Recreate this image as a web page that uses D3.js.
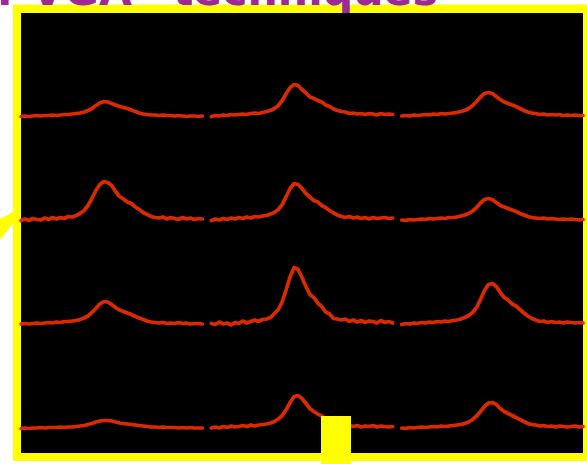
<!DOCTYPE html>
<html>
<head>
<meta charset="utf-8">
<script src="https://cdn.jsdelivr.net/npm/d3@7"></script>
<style>
  html, body { margin: 0; padding: 0; background: #fff; }
  svg { display: block; }
</style>
</head>
<body>
<script>
// rows / columns of the panel grid
const rows = ['r1', 'r2', 'r3', 'r4'];
const cols = ['c1', 'c2', 'c3'];

// trace heights above each row baseline (px-ish units), 47 samples per trace
const r1c1 = [0,0.5,0,0.5,1,0.5,1,1,1.5,1,1.5,2,2,2.5,3,3.5,4.5,6,8,11,13.5,15,14.5,13,11.5,10,9,8,6.5,5,3.5,2.5,2,1.5,1.5,1,1.5,1,1,0.5,1,0.5,0,0.5,0.5,0,0.5];
const r1c2 = [0,1,0.5,1.5,1,2,1.5,2,2.5,2,3,3.5,3,4,5,6,8,11,16,23,29,32,31,27,23.5,19.5,18,16,14.5,11.5,10,7.5,6,5,4.5,3,3.5,2.5,3,2,3,2.5,1.5,3,2,2.5,2];
const r1c3 = [0.5,1,0.5,1.5,1,1.5,2,1.5,2.5,2,3,2.5,3,3.5,4,5,6,8,11,15,19.5,23,24,23,20,17,14.5,13,11.5,10,8,6,4.5,3.5,3,2,2.5,1.5,2,1.5,2,1,1.5,1,1.5,1,1];

const r2c1 = [0,1.5,0,2,1,0.5,2.5,1,3,1.5,3,2,4,3.5,5,7,10,15,22,30,36,39,38,35,29,24,21.5,18.5,17,13.5,11,8,6,4,3,2.5,3.5,1.5,3,2,1,3,1.5,2.5,1,2,1.5];
const r2c2 = [0,1.5,0.5,2,1,2.5,1.5,3,2,3.5,2.5,4,3.5,4.5,5,6.5,8,11,16,24,32,37,36,32,27,23.5,20,18.5,15,13,10,7.5,5.5,4,3,4,2.5,3.5,2,3,1.5,3,2,2.5,3,2,2.5];
const r2c3 = [0.5,0,1,0.5,1,1.5,1,2,1.5,2,2.5,2,3,3,3.5,4.5,5.5,7,9.5,13,17.5,21,22,21,18,15,13.5,12,10.5,9,7,5.5,4,3,2.5,2,2.5,1.5,2,1.5,1,1.5,1,1.5,1,0.5,1];

const r3c1 = [0.5,1,0.5,1,1.5,1,1.5,2,1.5,2.5,2,3,3,3.5,4,5,6.5,8.5,12,16,20.5,23,22.5,20,17,14.5,13,11.5,10,8,6.5,5,3.5,2.5,2,1.5,2,1,1.5,1,2,1,1.5,0.5,1,1,0.5];
const r3c2 = [1,0,2.5,0.5,1.5,-0.5,2,1,3.5,1.5,3,4.5,3,5,5.5,7,11,15,23,35,48,57,55,47,38,30,27,21.5,18,12.5,10.5,6,5.5,4.5,5.5,3,4.5,2.5,4,2,3.5,3,1.5,4,2,3,1.5];
const r3c3 = [0,1,0.5,1.5,1,2,1.5,2.5,2,3,2.5,3.5,3,4,4.5,5.5,7,9,12,17,25,34,40,41,38,32,27,24.5,20.5,18.5,15,11.5,8.5,6,4.5,3,3.5,2,3,2,2.5,1.5,2.5,2,1.5,2,1.5];

const r4c1 = [0,0.5,0,0.5,0.5,1,0.5,1,1,1,1.5,1,1.5,1.5,2,2.5,3,4,5,6.5,7.5,8,8,7.5,6.5,5.5,5,4.5,4,3.5,3,2.5,2,1.5,1.5,1,1.5,1,1,1,0.5,1,0.5,1,0.5,0.5,0.5];
const r4c2 = [0.5,1.5,0.5,2,1,2.5,1.5,2,3,2,3.5,2.5,3.5,4,4.5,5.5,7,9.5,13,19,26,32,33,30,25,20,17,14.5,12.5,10,8,6,4.5,3.5,2.5,3,2,3,1.5,2.5,2,3,1.5,2.5,2,1.5,2];
const r4c3 = [0.5,0,1,0.5,1,1.5,1,1.5,2,1.5,2.5,2,2.5,3,3.5,4,5,6.5,9,12.5,17,22,25.5,26,24,20,17,15,13,11,9,7,5,4,3.5,2.5,3,2,2.5,1.5,2.5,2,1.5,2,2.5,1.5,2];

const grid = [
  [r1c1, r1c2, r1c3],
  [r2c1, r2c2, r2c3],
  [r3c1, r3c2, r3c3],
  [r4c1, r4c2, r4c3]
];
const traces = [];
rows.forEach((r, i) => cols.forEach((c, j) => traces.push({ row: r, col: c, values: grid[i][j] })));

const titleParts = ['in', 'VGA', 'techniques'];

const width = 587, height = 464;

const svg = d3.select('body').append('svg')
  .attr('width', width)
  .attr('height', height)
  .style('background-color', 'white');

const defs = svg.append('defs');
defs.append('filter').attr('id', 'soft')
  .append('feGaussianBlur').attr('stdDeviation', 0.55);

// yellow frame (under the title)
svg.append('rect')
  .attr('x', 13).attr('y', 4.5)
  .attr('width', 590).attr('height', 456.5)
  .attr('fill', '#ffff00');

// title, mostly cut off at the top
const title = svg.append('text')
  .attr('y', 4.5)
  .attr('fill', '#9a2a98')
  .attr('font-family', 'DejaVu Sans, Verdana, sans-serif')
  .attr('font-weight', 'bold')
  .attr('font-size', 42.6);
title.selectAll('tspan')
  .data(titleParts)
  .join('tspan')
  .attr('x', (d, i) => [-33, 31, 173][i])
  .text(d => d);

// black panel
svg.append('rect')
  .attr('x', 21).attr('y', 13)
  .attr('width', 562).attr('height', 440)
  .attr('fill', '#000');

const colScale = d3.scaleBand()
  .domain(cols)
  .range([21, 585])
  .paddingInner(0.037);

const rowScale = d3.scalePoint()
  .domain(rows)
  .range([116.5, 428.5]);

const g = svg.append('g').attr('filter', 'url(#soft)');

traces.forEach(t => {
  const x0 = colScale(t.col);
  const x = d3.scaleLinear()
    .domain([0, t.values.length - 1])
    .range([x0, x0 + colScale.bandwidth() - 2]);
  const base = rowScale(t.row);
  const y = d3.scaleLinear()
    .domain([0, 60])
    .range([base, base - 60]);
  const line = d3.line()
    .x((d, i) => x(i))
    .y(d => y(d));
  g.append('path')
    .datum(t.values)
    .attr('fill', 'none')
    .attr('stroke', '#dc2a02')
    .attr('stroke-width', 3.7)
    .attr('stroke-linejoin', 'round')
    .attr('stroke-linecap', 'round')
    .attr('d', line);
});

// yellow callout wedge on the left and the small marker at the bottom
svg.append('polygon')
  .attr('points', '0,219 13,212 13,223 0,240')
  .attr('fill', '#ffff00');

svg.append('rect')
  .attr('x', 321).attr('y', 416)
  .attr('width', 30).attr('height', 48)
  .attr('fill', '#ffff00');
</script>
</body>
</html>
